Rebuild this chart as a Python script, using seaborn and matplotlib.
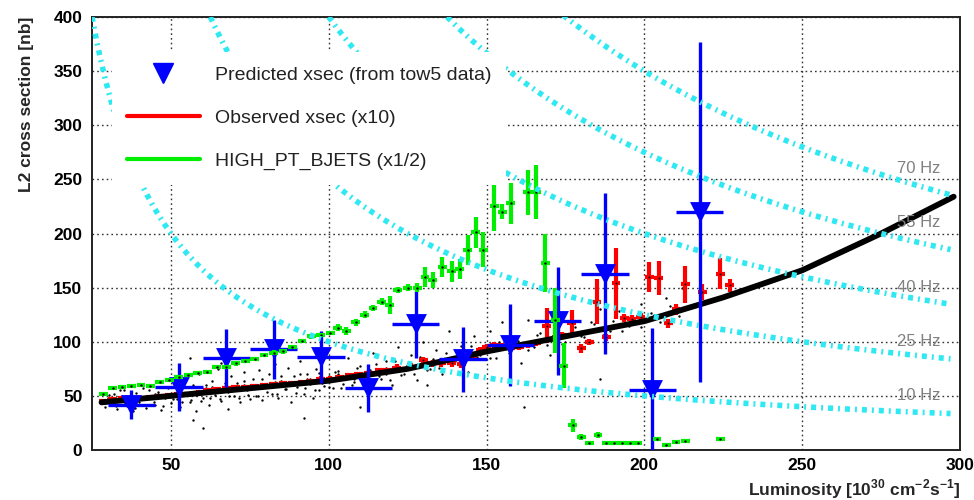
import numpy as np
import matplotlib
matplotlib.use("Agg")
import matplotlib.pyplot as plt
import seaborn as sns
from matplotlib.lines import Line2D
from matplotlib.ticker import MultipleLocator

# ---------------------------------------------------------------- data
# Predicted L2 cross section from tow5 data, 15-unit luminosity bins
pred_lumi = [37.5, 52.5, 67.5, 82.5, 97.5, 112.5, 127.5, 142.5, 157.5, 172.5, 187.5, 202.5, 217.5]
pred_xsec = [42, 58, 85, 93, 86, 57, 116, 84, 97, 119, 163, 55, 220]
pred_err = [13, 22, 27, 27, 24, 22, 31, 30, 38, 50, 74, 58, 157]
pred_halfbin = 7.5

# Observed cross section (scaled x10)
obs_lumi = [28.5, 31.5, 34.5, 37.5, 40.5, 43.5, 46.5, 49.5, 52.5, 55.5, 58.5, 61.5, 64.5, 67.5,
            70.5, 73.5, 76.5, 79.5, 82.5, 85.5, 88.5, 91.5, 94.5, 97.5, 100.5, 103.5, 106.5,
            109.5, 112.5, 116, 119, 121.5, 126, 130, 133, 135.6, 139, 142, 145.6, 148, 150,
            152.5, 155, 157.5, 160.4, 163, 165.8, 169, 171.5, 174, 177, 180, 182.5, 185, 188,
            191, 193.6, 196, 198.8, 201.6, 204.6, 207.6, 210, 213, 218.4, 224, 227]
obs_xsec = [45, 47, 48, 46, 48, 49, 50, 51, 52, 52, 53, 55, 56, 57,
            58, 58, 59, 60, 61, 62, 62, 63, 64, 66, 66, 67, 69,
            70, 71, 74, 74, 76, 77, 83, 80, 80, 80, 79, 87, 92, 95,
            97, 96, 94, 95, 97, 99, 115, 103, 106, 117, 94, 100, 137, 104,
            154, 122, 121, 123, 160, 159, 117, 130, 153, 146, 163, 152]
obs_err = [2, 2, 2, 2, 2, 2, 2, 2, 2, 2, 2, 2, 2, 2,
           2, 2, 2, 2, 2, 2, 2, 2, 2, 2, 2, 2, 2,
           2, 2, 2, 2, 3, 3, 3, 3, 3, 3, 3, 3, 3, 3,
           3, 3, 3, 3, 3, 3, 16, 3, 3, 12, 4, 3, 21, 3,
           33, 4, 4, 4, 14, 16, 4, 5, 17, 7, 14, 6]

# HIGH_PT_BJETS cross section (scaled x1/2)
bjet_lumi = [28.5, 31.5, 34.5, 37.5, 40.5, 43.5, 46.5, 49.5, 52.5, 55.5, 58.5, 61.5, 64.5, 67.5,
             70.5, 73.5, 76.5, 79.5, 82.5, 85.5, 88.5, 91.5, 94.5, 97.5, 100.5, 102.8, 105.6,
             108.5, 111.4, 114, 116.8, 119.3, 121.8, 125, 128, 130.5, 133, 136, 139, 141.5,
             144, 146.5, 149, 152.5, 155, 157.6, 163, 165.8, 168.6, 171.8, 174.4, 177.3, 180,
             182.6, 185.3, 188, 190.5, 193, 195.5, 198, 204, 207, 210, 213, 224]
bjet_xsec = [52, 57, 58, 59, 60, 59, 63, 65, 67, 69, 71, 72, 77, 77,
             80, 82, 84, 88, 90, 91, 95, 101, 105, 106, 108, 113, 110,
             118, 125, 131, 137, 134, 148, 150, 150, 160, 157, 169, 165, 167,
             185, 201, 185, 225, 220, 228, 238, 238, 173, 120, 78, 23, 12,
             6.5, 14, 6.5, 6.5, 6.5, 6.5, 6.5, 10, 4.5, 7, 8, 10]
bjet_err = [1, 1, 1, 1, 1, 1, 1.5, 1.5, 1.5, 1.5, 1.5, 1.5, 1.5, 1.5,
            2, 2, 2, 2, 2, 2, 2, 2, 2, 2, 2, 3, 4,
            3, 3, 3, 3, 8, 3, 3, 4, 9, 7, 9, 10, 9,
            14, 14, 16, 23, 7, 19, 21, 25, 27, 30, 21, 6, 3,
            2, 3, 1, 1, 1, 1, 1, 1, 1, 1, 1, 1]
halfbin = 1.4

# Smoothed cross-section trend
fit_lumi = [28, 50, 75, 100, 125, 150, 175, 200, 225, 250, 275, 298]
fit_xsec = [44, 50, 57, 64, 75, 91, 105, 119, 141, 166, 200, 234]

# Per-run cross-section measurements: the wide spread ...
cloud_lumi = [29, 30, 31, 32, 33, 34, 35, 36, 37, 38, 39, 40, 41, 42, 43, 44, 45, 46, 47, 48, 49, 50,
              51, 52, 53, 54, 55, 56, 57, 58, 59, 60, 61, 62, 63, 64, 65, 66, 67, 68, 69, 70, 71, 72,
              73, 74, 75, 60, 57, 66, 56,
              76, 77, 78, 79, 80, 81, 82, 83, 84, 85, 86, 87, 88, 89, 90, 91, 92, 93, 94, 95, 96,
              97, 98, 99, 100,
              102, 104, 106, 108, 110, 112, 114, 116, 118, 120, 122, 124,
              126, 128, 130, 132, 134, 136, 138, 140, 142, 144, 146, 148,
              151, 153, 155, 157, 159, 161, 163, 165, 167, 170, 172, 174,
              177, 180, 183, 186, 189, 192, 195, 199, 203, 207, 212, 215,
              110, 92, 131, 186, 162,
              33, 36, 39, 42, 45, 48, 53, 58, 63, 68, 73, 78, 83, 88, 93, 98, 103, 108, 113, 118]
cloud_xsec = [40, 48, 42, 52, 38, 46, 55, 41, 50, 36, 53, 44, 57, 39, 49, 60, 42, 54, 37, 51, 58, 43,
              62, 47, 40, 66, 53, 44, 60, 36, 70, 48, 57, 42, 64, 51, 75, 45, 59, 38, 68, 50, 62, 44,
              72, 55, 47, 20, 28, 80, 85,
              66, 50, 74, 46, 60, 70, 52, 79, 48, 64, 56, 76, 44, 68, 58, 82, 52, 70, 61, 48, 75,
              55, 66, 86, 58,
              72, 57, 85, 63, 78, 54, 90, 68, 82, 60, 95, 70,
              88, 65, 100, 75, 92, 70, 110, 82, 96, 72, 105, 88,
              110, 85, 118, 92, 104, 80, 120, 95, 108, 88, 112, 98,
              125, 105, 118, 130, 110, 128, 115, 135, 125, 140, 150, 132,
              40, 30, 60, 66, 40,
              46, 44, 49, 47, 52, 48, 55, 51, 58, 54, 60, 57, 63, 60, 66, 62, 70, 66, 74, 70]
# ... and the dense core close to the trend
core_lumi = [30.5, 32.5, 34, 35.5, 37, 38.5, 40, 41.5, 43, 44.5, 46, 47.5, 49, 50.5, 52, 53.5,
             55, 56.5, 58, 59.5, 61, 62.5, 64, 65.5, 67, 68.5, 70, 71.5, 73, 74.5, 76, 77.5,
             79, 80.5, 82, 83.5, 85, 86.5, 88, 89.5, 91, 92.5, 94, 95.5, 97, 98.5, 100, 101.5,
             103, 104.5, 106, 107.5, 109, 110.5, 112, 113.5, 115, 116.5, 118, 119.5, 121,
             123, 125, 127, 129, 131, 133, 135, 137, 139, 141, 143, 145, 147, 149, 151,
             154, 157, 160, 163, 166, 169, 172, 175, 178, 181, 184, 187, 190, 193, 196, 199,
             202, 205, 208, 211]
core_xsec = [51, 41, 55, 43, 50, 39, 49, 42, 55, 44, 52, 41, 57, 47, 54, 44,
             58, 46, 53, 45, 60, 48, 57, 47, 62, 50, 58, 48, 64, 51, 60, 50,
             66, 54, 62, 52, 68, 56, 63, 53, 70, 57, 66, 55, 71, 59, 68, 57,
             73, 61, 70, 60, 76, 63, 73, 62, 79, 66, 76, 65, 82,
             69, 80, 70, 86, 74, 84, 76, 90, 80, 88, 79, 96, 86, 94, 85,
             100, 90, 101, 92, 106, 97, 109, 100, 114, 104, 116, 106, 119, 110, 124, 114,
             127, 118, 133, 124]

# Constant trigger-rate contours
rate_hz = [10, 25, 40, 55, 70]
hz_label_y = [50, 100, 150, 210, 260]

# ---------------------------------------------------------------- style
sns.set_theme(style="white")
plt.rcParams["font.family"] = ["Liberation Sans", "DejaVu Sans"]
plt.rcParams["mathtext.fontset"] = "custom"
plt.rcParams["mathtext.rm"] = "Liberation Sans"
plt.rcParams["mathtext.bf"] = "Liberation Sans:bold"

BLUE, RED, GREEN, CYAN = "#0000ff", "#ff0000", "#00ee00", "#2ee8f2"

fig = plt.figure(figsize=(9.74, 5.0), dpi=100)
ax = fig.add_axes([0.0945, 0.1, 0.8911, 0.866])

ax.set_xlim(25, 300)
ax.set_ylim(0, 400)
ax.xaxis.set_major_locator(MultipleLocator(50))
ax.xaxis.set_minor_locator(MultipleLocator(10))
ax.yaxis.set_major_locator(MultipleLocator(50))
ax.yaxis.set_minor_locator(MultipleLocator(10))
ax.grid(True, which="major", color="#333333", lw=1.0, ls=(0, (1.2, 2.2)), zorder=0)
ax.set_axisbelow(True)

# per-run measurements
sns.scatterplot(x=cloud_lumi, y=cloud_xsec, ax=ax, s=3, color="black", linewidth=0, zorder=1)
sns.scatterplot(x=core_lumi, y=core_xsec, ax=ax, s=3, color="black", linewidth=0, zorder=1)

# observed (x10)
ax.errorbar(obs_lumi, obs_xsec, yerr=obs_err, xerr=halfbin, fmt="none",
            ecolor=RED, elinewidth=3, capsize=0, zorder=2)

# trend
sns.lineplot(x=fit_lumi, y=fit_xsec, ax=ax, color="black", lw=4.2, zorder=3)
sns.scatterplot(x=obs_lumi, y=obs_xsec, ax=ax, s=2, color="black", linewidth=0, zorder=3)

# predicted from tow5
ax.errorbar(pred_lumi, pred_xsec, yerr=pred_err, xerr=pred_halfbin, fmt="none",
            ecolor=BLUE, elinewidth=2.4, capsize=0, zorder=4)
sns.scatterplot(x=pred_lumi, y=pred_xsec, ax=ax, marker="v", s=225, color=BLUE,
                edgecolor=BLUE, linewidth=0, zorder=4)

# HIGH_PT_BJETS (x1/2)
ax.errorbar(bjet_lumi, bjet_xsec, yerr=bjet_err, xerr=halfbin, fmt="none",
            ecolor=GREEN, elinewidth=3, capsize=0, zorder=5)
sns.scatterplot(x=bjet_lumi, y=bjet_xsec, ax=ax, s=3, color="black", linewidth=0, zorder=5)

# iso-rate curves: rate[Hz] = xsec[nb] * L[1e30 cm^-2 s^-1] * 1e-3
lumi_grid = np.linspace(25, 297, 400)
for r in rate_hz:
    xs = r * 1e3 / lumi_grid
    keep = xs <= 402
    sns.lineplot(x=lumi_grid[keep], y=xs[keep], ax=ax, color=CYAN, lw=4.0,
                 ls=(0, (0.9, 0.9, 0.35, 0.9)), zorder=6, sort=False)

for r, ly in zip(rate_hz, hz_label_y):
    ax.text(280, ly, f"{r} Hz", color="#808080", fontsize=12, ha="left", va="center", zorder=7)

# axes decoration
for s in ax.spines.values():
    s.set_visible(True)
    s.set_color("#222222")
    s.set_linewidth(1.4)
ax.tick_params(which="both", direction="in", top=False, right=False, colors="#222222",
               labelsize=12.5, labelcolor="black")
ax.tick_params(axis="x", which="major", length=8.5, width=1.2, pad=6)
ax.tick_params(axis="x", which="minor", length=4.3, width=1.0)
ax.tick_params(axis="y", which="major", length=14, width=1.2, pad=7)
ax.tick_params(axis="y", which="minor", length=8.5, width=1.0)
for lab in ax.get_xticklabels() + ax.get_yticklabels():
    lab.set_fontweight("bold")

ax.set_xlabel(r"Luminosity [10$^{\mathbf{30}}$ cm$^{\mathbf{-2}}$s$^{\mathbf{-1}}$]",
              fontsize=12.5, fontweight="bold", loc="right", labelpad=3)
ax.set_ylabel("L2 cross section [nb]", fontsize=12.5, fontweight="bold", loc="top", labelpad=14)

handles = [
    Line2D([], [], marker="v", color=BLUE, ls="none", ms=15),
    Line2D([], [], color=RED, lw=3),
    Line2D([], [], color=GREEN, lw=3),
]
labels = ["Predicted xsec (from tow5 data)", "Observed xsec (x10)", "HIGH_PT_BJETS (x1/2)"]
leg = ax.legend(handles, labels, loc="upper left", bbox_to_anchor=(0.023, 0.919),
                borderaxespad=0, frameon=True, facecolor="white", edgecolor="none",
                fancybox=False, framealpha=1, fontsize=14, handlelength=3.75,
                handletextpad=0.8, labelspacing=1.3, borderpad=0.75)
leg.set_zorder(10)
for t in leg.get_texts():
    t.set_color("#222222")

fig.savefig("out.png", dpi=100)
